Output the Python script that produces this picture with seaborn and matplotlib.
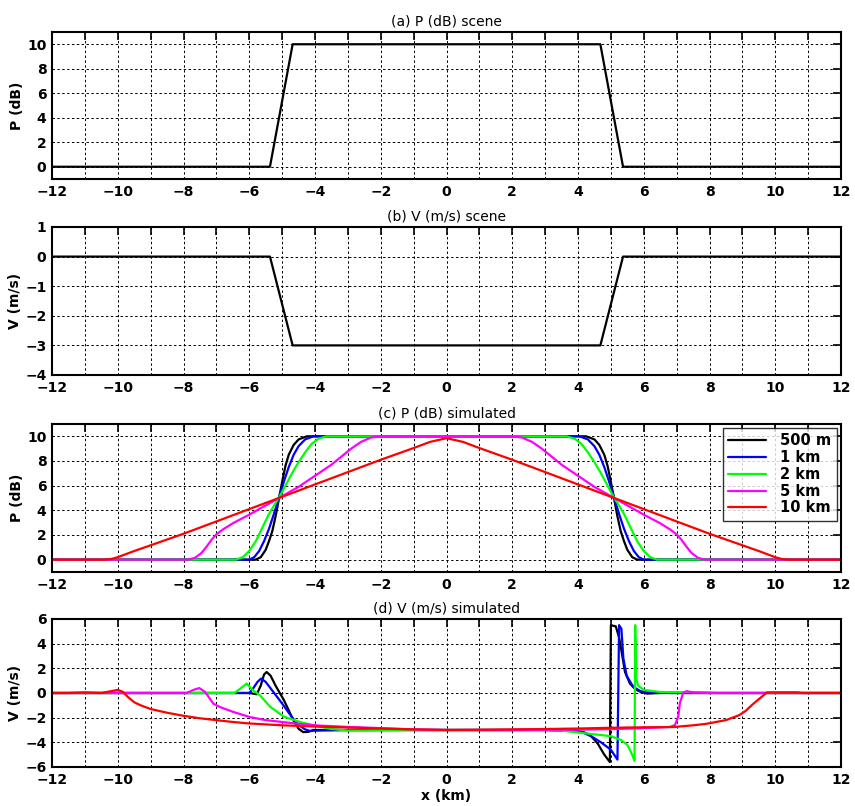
import numpy as np
import pandas as pd
import matplotlib
matplotlib.use('Agg')
import matplotlib.pyplot as plt
import seaborn as sns
from matplotlib.ticker import MultipleLocator

# (a)/(b) scene profiles
scene_x = [-12, -5.37, -4.68, 4.68, 5.37, 12]
scene_p = [0, 0, 10, 10, 0, 0]
scene_v = [0, 0, -3, -3, 0, 0]

labels = ['500 m', '1 km', '2 km', '5 km', '10 km']
colors = ['#000000', '#0000ff', '#00ff00', '#ff00ff', '#ff0000']

# (c) simulated P (dB)
p_500m_x = [-12, -5.8, -5.65, -5.5, -5.4, -5.3, -5.2, -5.1, -5.0, -4.9, -4.8, -4.65, -4.5, -4.25,
            4.25, 4.5, 4.65, 4.8, 4.9, 5.0, 5.1, 5.2, 5.3, 5.4, 5.5, 5.65, 5.8, 12]
p_500m_y = [0, 0, 0.2, 0.8, 1.5, 2.3, 3.5, 4.9, 6.3, 7.6, 8.5, 9.3, 9.75, 10,
            10, 9.75, 9.3, 8.5, 7.6, 6.3, 4.9, 3.5, 2.3, 1.5, 0.8, 0.2, 0, 0]
p_1km_x = [-12, -6.0, -5.85, -5.7, -5.55, -5.4, -5.25, -5.1, -4.95, -4.8, -4.65, -4.5, -4.3, -4.05,
           4.05, 4.3, 4.5, 4.65, 4.8, 4.95, 5.1, 5.25, 5.4, 5.55, 5.7, 5.85, 6.0, 12]
p_1km_y = [0, 0, 0.2, 0.7, 1.5, 2.5, 3.7, 5.0, 6.3, 7.5, 8.5, 9.2, 9.75, 10,
           10, 9.75, 9.2, 8.5, 7.5, 6.3, 5.0, 3.7, 2.5, 1.5, 0.7, 0.2, 0, 0]
p_2km_x = [-12, -6.4, -6.2, -6.0, -5.8, -5.6, -5.4, -5.2, -5.1, -4.9, -4.7, -4.5, -4.3, -4.1, -3.9, -3.65,
           3.65, 3.9, 4.1, 4.3, 4.5, 4.7, 4.9, 5.1, 5.2, 5.4, 5.6, 5.8, 6.0, 6.2, 6.4, 12]
p_2km_y = [0, 0, 0.2, 0.7, 1.5, 2.6, 3.7, 4.6, 5.0, 6.0, 7.0, 7.9, 8.7, 9.4, 9.8, 10,
           10, 9.8, 9.4, 8.7, 7.9, 7.0, 6.0, 5.0, 4.6, 3.7, 2.6, 1.5, 0.7, 0.2, 0, 0]
p_5km_x = [-12, -7.85, -7.65, -7.45, -7.3, -7.15, -7.0, -6.8, -6.5, -6.0, -5.5, -5.1, -4.5, -4.0, -3.5,
           -3.2, -2.9, -2.6, -2.3, -2.0,
           2.0, 2.3, 2.6, 2.9, 3.2, 3.5, 4.0, 4.5, 5.1, 5.5, 6.0, 6.5, 6.8, 7.0, 7.15, 7.3, 7.45,
           7.65, 7.85, 12]
p_5km_y = [0, 0, 0.15, 0.55, 1.05, 1.6, 2.05, 2.45, 2.95, 3.65, 4.4, 5.0, 5.9, 6.8, 7.7,
           8.35, 9.0, 9.55, 9.9, 10,
           10, 9.9, 9.55, 9.0, 8.35, 7.7, 6.8, 5.9, 5.0, 4.4, 3.65, 2.95, 2.45, 2.05, 1.6, 1.05, 0.55,
           0.15, 0, 0]
p_10km_x = [-12, -10.4, -10.2, -10.0, -9.8, -9.5, -8.0, -6.0, -4.0, -2.0, -1.0, -0.5, 0,
            0.5, 1.0, 2.0, 4.0, 6.0, 8.0, 9.5, 9.8, 10.0, 10.2, 10.4, 12]
p_10km_y = [0, 0, 0.05, 0.2, 0.4, 0.7, 2.1, 4.1, 6.1, 8.1, 9.05, 9.55, 9.85,
            9.55, 9.05, 8.1, 6.1, 4.1, 2.1, 0.7, 0.4, 0.2, 0.05, 0, 0]

# (d) simulated V (m/s)
v_500m_x = [-12, -6.0, -5.77, -5.65, -5.55, -5.47, -5.35, -5.2, -5.05, -4.96, -4.8, -4.66, -4.5, -4.36,
            -4.2, -4.06, -3.0, 0, 3.0, 3.7, 4.0, 4.2, 4.4, 4.6, 4.8, 4.97, 5.0, 5.15, 5.25, 5.33, 5.43,
            5.58, 5.75, 5.9, 6.1, 6.5, 12]
v_500m_y = [0, 0, -0.1, 0.6, 1.5, 1.7, 1.4, 0.6, -0.1, -0.5, -1.4, -2.2, -2.9, -3.17,
            -3.15, -3.0, -3.0, -3.0, -3.0, -3.05, -3.1, -3.2, -3.5, -4.1, -5.0, -5.6, 5.5, 5.4, 4.5, 3.3, 1.7,
            0.76, 0.3, 0.1, -0.05, 0, 0]
v_1km_x = [-12, -6.0, -5.9, -5.75, -5.64, -5.5, -5.3, -5.1, -4.96, -4.8, -4.66, -4.5, -4.3, -4.15, -4.0,
           -3.0, 0, 3.0, 3.8, 4.1, 4.4, 4.7, 5.0, 5.2, 5.25, 5.32, 5.38, 5.48, 5.68, 5.9, 6.1, 6.7, 6.8, 12]
v_1km_y = [0, 0, 0.3, 0.9, 1.17, 0.9, 0.2, -0.5, -1.0, -1.6, -2.1, -2.6, -2.95, -3.08, -3.05,
           -3.0, -3.0, -3.0, -3.05, -3.15, -3.5, -4.0, -4.6, -5.4, 5.5, 5.2, 2.8, 1.4, 0.5, 0.15, 0.05, 0.05, 0, 0]
v_2km_x = [-12, -6.45, -6.3, -6.08, -5.9, -5.67, -5.37, -4.96, -4.46, -4.0, -3.54, -3.0, -2.5, -2.0, 0,
           3.0, 3.5, 4.0, 4.5, 5.0, 5.3, 5.5, 5.63, 5.72, 5.74, 5.77, 5.83, 6.0, 6.5, 8.0, 8.2, 12]
v_2km_y = [0, 0, 0.3, 0.76, 0.25, -0.2, -1.1, -1.9, -2.35, -2.65, -2.9, -3.05, -3.05, -3.02, -3.0,
           -3.0, -3.05, -3.2, -3.35, -3.5, -3.8, -4.2, -4.9, -5.5, 5.5, 1.2, 0.6, 0.25, 0.08, 0.05, 0, 0]
v_5km_x = [-12, -7.9, -7.7, -7.52, -7.35, -7.2, -7.09, -6.89, -6.48, -5.98, -5.5, -4.96, -4.5, -3.95,
           -3.0, -2.0, -1.0, 0, 2.0, 4.0, 5.0, 6.0, 6.8, 6.95, 7.05, 7.1, 7.2, 7.3, 7.5, 8.0, 12]
v_5km_y = [0, 0, 0.25, 0.4, 0.1, -0.45, -0.87, -1.14, -1.54, -1.95, -2.2, -2.36, -2.5, -2.63,
           -2.75, -2.85, -2.95, -3.0, -3.0, -2.97, -2.93, -2.85, -2.75, -2.6, -1.9, -0.8, 0.0, 0.15, 0.05, 0, 0]
v_10km_x = [-12, -11.5, -11.0, -10.5, -10.2, -10.0, -9.85, -9.7, -9.5, -9.3, -9.0, -8.5, -8.0, -7.5,
            -7.0, -6.5, -6.0, -5.0, -4.0, -3.0, -2.0, -1.0, 0, 1.0, 2.0, 3.0, 4.0, 5.0, 6.0, 6.9,
            7.5, 7.9, 8.5, 8.9, 9.1, 9.3, 9.5, 9.75, 10.7, 10.8, 12]
v_10km_y = [0, 0, 0.05, 0, 0.15, 0.25, 0.1, -0.3, -0.75, -1.0, -1.3, -1.6, -1.85, -2.05,
            -2.2, -2.35, -2.47, -2.62, -2.72, -2.8, -2.88, -2.95, -3.0, -2.98, -2.95, -2.92, -2.88, -2.82, -2.78, -2.76,
            -2.62, -2.5, -2.2, -1.8, -1.45, -0.95, -0.5, 0.05, 0.05, 0, 0]


def long_form(xs, ys):
    parts = []
    for lab, x, y in zip(labels, xs, ys):
        parts.append(pd.DataFrame({'x': x, 'y': y, 'label': lab}))
    return pd.concat(parts, ignore_index=True)


df_p = long_form([p_500m_x, p_1km_x, p_2km_x, p_5km_x, p_10km_x],
                 [p_500m_y, p_1km_y, p_2km_y, p_5km_y, p_10km_y])
df_v = long_form([v_500m_x, v_1km_x, v_2km_x, v_5km_x, v_10km_x],
                 [v_500m_y, v_1km_y, v_2km_y, v_5km_y, v_10km_y])
df_scene = pd.DataFrame({'x': scene_x, 'p': scene_p, 'v': scene_v})

sns.set_style('white')
plt.rcParams['font.family'] = ['DejaVu Sans']
plt.rcParams['text.color'] = 'black'
plt.rcParams['axes.labelcolor'] = 'black'
plt.rcParams['xtick.color'] = 'black'
plt.rcParams['ytick.color'] = 'black'

fig = plt.figure(figsize=(8.55, 8.06), dpi=100)
W, H = 855.0, 806.0
left, right = 52, 841
boxes = [(32, 179), (227, 375), (424, 572), (619, 767)]
axes = [fig.add_axes([left / W, 1 - b / H, (right - left) / W, (b - t) / H]) for t, b in boxes]
ax_a, ax_b, ax_c, ax_d = axes

sns.lineplot(data=df_scene, x='x', y='p', color='black', lw=1.6, sort=False, estimator=None, ax=ax_a)
sns.lineplot(data=df_scene, x='x', y='v', color='black', lw=1.6, sort=False, estimator=None, ax=ax_b)
sns.lineplot(data=df_p, x='x', y='y', hue='label', hue_order=labels, palette=colors,
             lw=1.6, sort=False, estimator=None, ax=ax_c)
sns.lineplot(data=df_v, x='x', y='y', hue='label', hue_order=labels, palette=colors,
             lw=1.6, sort=False, estimator=None, ax=ax_d, legend=False)

titles = ['(a) P (dB) scene', '(b) V (m/s) scene', '(c) P (dB) simulated', '(d) V (m/s) simulated']
ylabels = ['P (dB)', 'V (m/s)', 'P (dB)', 'V (m/s)']
ylims = [(-1, 11), (-4, 1), (-1, 11), (-6, 6)]
ysteps = [2, 1, 2, 2]

for ax, t, yl, lim, st in zip(axes, titles, ylabels, ylims, ysteps):
    ax.set_xlim(-12, 12)
    ax.set_ylim(*lim)
    ax.xaxis.set_major_locator(MultipleLocator(2))
    ax.xaxis.set_minor_locator(MultipleLocator(1))
    if lim == (-1, 11):
        ax.set_yticks([0, 2, 4, 6, 8, 10])
    else:
        ax.yaxis.set_major_locator(MultipleLocator(st))
    ax.grid(which='both', axis='x', color='black', linestyle=(0, (2.5, 2.5)), lw=0.7)
    ax.grid(which='major', axis='y', color='black', linestyle=(0, (2.5, 2.5)), lw=0.7)
    ax.tick_params(which='both', direction='in', top=True, right=True, length=6, width=1.2,
                   labelsize=10, pad=4, colors='black')
    for lab in ax.get_xticklabels() + ax.get_yticklabels():
        lab.set_fontweight('bold')
    for sp in ax.spines.values():
        sp.set_visible(True)
        sp.set_color('black')
        sp.set_linewidth(1.5)
    ax.set_title(t, fontsize=10, pad=5, color='black')
    ax.set_ylabel(yl, fontsize=10, fontweight='bold', labelpad=2)
    ax.set_xlabel('')

ax_d.set_xlabel('x (km)', fontsize=10, fontweight='bold', labelpad=2)

leg = ax_c.legend(loc='upper right', frameon=True, fancybox=False, edgecolor='black',
                  fontsize=10.5, handlelength=2.6, labelspacing=0.12, borderpad=0.35,
                  borderaxespad=0.3, handletextpad=1.0)
leg.get_frame().set_linewidth(1.0)
for txt in leg.get_texts():
    txt.set_fontweight('bold')
    txt.set_color('black')

fig.savefig('out.png', dpi=100)
